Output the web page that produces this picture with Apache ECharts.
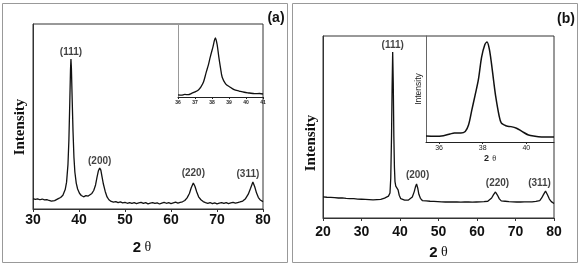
<!DOCTYPE html>
<html>
<head>
<meta charset="utf-8">
<script src="https://cdn.jsdelivr.net/npm/echarts@6/dist/echarts.min.js"></script>
<style>
  html, body { margin: 0; padding: 0; background: #fff; }
  #chart { width: 580px; height: 265px; }
</style>
</head>
<body>
<div id="chart"></div>
<script>
// XRD patterns, panel (a) and (b), intensity in arbitrary units (0-100)
const scanA = [
    [30.0, 5.6], [30.5, 5.2], [31.0, 5.5], [31.5, 5.0], [32.0, 5.4], [32.5, 4.9], [33.0, 5.1], [33.5, 4.6],
    [34.0, 4.2], [34.3, 4.8], [34.7, 4.5], [35.0, 5.3], [35.5, 5.6], [36.0, 6.2], [36.5, 7.4], [37.0, 10.5],
    [37.3, 14.5], [37.6, 24], [37.8, 37], [38.0, 58], [38.15, 75], [38.25, 81], [38.35, 76], [38.5, 61],
    [38.7, 42], [38.9, 28], [39.1, 20], [39.4, 14], [39.7, 10.8], [40.1, 8.5], [40.5, 7.3], [41.0, 6.6],
    [41.5, 7.2], [42.0, 7.0], [42.4, 7.6], [42.8, 8.4], [43.2, 10], [43.6, 13], [43.9, 17], [44.2, 20.5],
    [44.5, 22.2], [44.75, 21], [45.0, 17.5], [45.3, 13.5], [45.7, 9.5], [46.1, 6.5], [46.5, 5.0], [47.0, 4.1],
    [47.5, 3.7], [48.0, 4.0], [48.5, 3.4], [49.0, 3.8], [49.5, 3.3], [50.0, 3.6], [50.5, 3.1], [51.0, 3.5],
    [51.5, 3.0], [52.0, 3.4], [52.5, 2.9], [53.0, 3.3], [53.5, 3.6], [54.0, 3.0], [54.5, 3.4], [55.0, 2.8],
    [55.5, 3.2], [56.0, 3.5], [56.5, 3.0], [57.0, 3.3], [57.5, 2.7], [58.0, 3.2], [58.5, 3.6], [59.0, 3.1],
    [59.5, 3.4], [60.0, 2.9], [60.5, 3.3], [61.0, 3.7], [61.5, 3.2], [62.0, 3.6], [62.5, 3.9], [63.0, 4.6],
    [63.5, 6.0], [64.0, 8.4], [64.4, 11.5], [64.85, 14.1], [65.2, 12.3], [65.6, 9.2], [66.0, 6.6], [66.5, 5.0],
    [67.0, 4.0], [67.5, 3.5], [68.0, 3.1], [68.5, 3.5], [69.0, 2.9], [69.5, 3.3], [70.0, 2.8], [70.5, 3.2],
    [71.0, 3.5], [71.5, 3.0], [72.0, 3.4], [72.5, 2.9], [73.0, 3.3], [73.5, 3.6], [74.0, 3.2], [74.5, 3.5],
    [75.0, 3.8], [75.6, 4.3], [76.2, 5.6], [76.8, 8.0], [77.3, 11.2], [77.8, 14.6], [78.2, 12.0], [78.6, 8.6],
    [79.0, 6.2], [79.4, 4.9], [79.7, 4.4], [80.0, 4.0]
];
const insetA = [
    [36.0, 3.0], [36.2, 2.5], [36.4, 3.5], [36.6, 3.2], [36.8, 5.0], [37.0, 7.0], [37.2, 9.6], [37.35, 14],
    [37.5, 20.5], [37.65, 33], [37.8, 45], [37.9, 55], [38.05, 68], [38.2, 80.8], [38.3, 72], [38.4, 55],
    [38.5, 40], [38.6, 27], [38.8, 18], [39.05, 13.7], [39.3, 10], [39.6, 8.2], [39.9, 6.5], [40.2, 5.5],
    [40.5, 4.5], [40.8, 4.8], [41.0, 4.1]
];
const scanB = [
    [20.0, 11.6], [20.5, 11.9], [21.0, 11.4], [21.5, 11.8], [22.0, 11.3], [22.5, 11.7], [23.0, 11.2], [23.5, 11.5],
    [24.0, 11.0], [24.5, 11.6], [25.0, 11.1], [25.5, 11.4], [26.0, 10.8], [26.5, 11.2], [27.0, 10.7], [27.5, 11.1],
    [28.0, 10.6], [28.5, 10.9], [29.0, 10.4], [29.5, 10.8], [30.0, 10.3], [30.5, 10.7], [31.0, 10.2], [31.5, 10.6],
    [32.0, 10.1], [32.5, 10.5], [33.0, 10.0], [33.5, 10.4], [34.0, 10.1], [34.5, 10.5], [35.0, 10.2], [35.5, 10.6],
    [36.0, 10.9], [36.5, 11.3], [37.0, 12.0], [37.4, 13.7], [37.6, 22], [37.8, 45], [37.95, 72], [38.1, 91.2],
    [38.25, 74], [38.4, 45], [38.55, 28], [38.7, 20], [38.9, 17.5], [39.2, 17.0], [39.5, 15.5], [39.8, 12.5],
    [40.2, 10.6], [40.7, 10.0], [41.2, 9.8], [41.7, 10.2], [42.2, 9.9], [42.7, 10.4], [43.2, 11.5], [43.7, 14.5],
    [44.0, 17], [44.3, 18.7], [44.6, 16.5], [44.9, 13], [45.3, 10.8], [45.8, 9.6], [46.3, 9.0], [46.8, 9.4],
    [47.3, 8.8], [47.8, 9.2], [48.3, 8.7], [48.8, 9.1], [49.3, 8.6], [49.8, 9.0], [50.3, 8.5], [50.8, 8.9],
    [51.3, 8.4], [51.8, 8.8], [52.3, 8.3], [52.8, 8.8], [53.3, 8.4], [53.8, 8.9], [54.3, 8.5], [54.8, 8.8],
    [55.3, 8.3], [55.8, 8.7], [56.3, 8.4], [56.8, 8.9], [57.3, 8.5], [57.8, 8.8], [58.3, 8.4], [58.8, 8.7],
    [59.3, 8.3], [59.8, 8.8], [60.3, 8.5], [60.8, 8.9], [61.3, 8.6], [61.8, 9.0], [62.3, 8.7], [62.8, 9.2],
    [63.3, 9.6], [63.8, 11], [64.3, 12.8], [64.8, 14.3], [65.3, 12.6], [65.8, 10.5], [66.3, 9.4], [66.8, 8.9],
    [67.3, 9.2], [67.8, 8.7], [68.3, 9.0], [68.8, 8.6], [69.3, 8.9], [69.8, 8.5], [70.3, 8.8], [70.8, 8.4],
    [71.3, 8.8], [71.8, 8.5], [72.3, 8.9], [72.8, 8.6], [73.3, 8.9], [73.8, 8.5], [74.3, 8.9], [74.8, 8.7],
    [75.3, 9.1], [75.8, 9.0], [76.3, 9.6], [76.8, 11], [77.3, 13], [77.8, 14.8], [78.3, 12.8], [78.8, 10.4],
    [79.3, 9.0], [79.7, 8.3], [80.0, 8.0]
];
const insetB = [
    [35.4, 5.7], [35.8, 5.5], [36.2, 6.0], [36.5, 7.5], [36.7, 8.5], [37.0, 8.5], [37.2, 10], [37.35, 16],
    [37.5, 30], [37.65, 44], [37.8, 58.5], [37.95, 80], [38.1, 92], [38.2, 94.3], [38.3, 88], [38.4, 74.5],
    [38.5, 58], [38.6, 42.5], [38.75, 25], [38.85, 18], [39.0, 16], [39.1, 15], [39.3, 14.5], [39.55, 13],
    [39.8, 10], [40.1, 6.6], [40.4, 5.5], [40.7, 4.8], [40.9, 4.7], [41.27, 4.7]
];

const hkl = ['(111)', '(200)', '(220)', '(311)'];
const peakPosA = [38.25, 44.5, 64.85, 77.8];
const peakIntA = [81, 22.2, 14.1, 14.6];
const peakPosB = [38.1, 44.3, 64.8, 77.8];
const peakIntB = [91.2, 18.7, 14.3, 14.8];
const insetTicksB = [36, 38, 40];

const SANS = 'Liberation Sans';
const SERIF = 'Liberation Serif';
const INK = '#111';

const chart = echarts.init(document.getElementById('chart'));

function mainX(min, max, gridIndex, labelMargin, nameGap, namePad) {
    return {
        type: 'value', gridIndex: gridIndex, min: min, max: max, interval: 10,
        axisLine: { show: true, lineStyle: { color: '#333', width: 1 } },
        axisTick: { show: true, length: 3, lineStyle: { color: '#333' } },
        splitLine: { show: false },
        axisLabel: { color: '#111', fontFamily: SANS, fontWeight: 'bold', fontSize: 14, margin: labelMargin },
        name: '{n|2} {t|θ}', nameLocation: 'middle', nameGap: nameGap,
        nameTextStyle: {
            padding: namePad,
            rich: {
                n: { fontFamily: SANS, fontWeight: 'bold', fontSize: 15, color: '#111' },
                t: { fontFamily: SERIF, fontSize: 14, color: '#111' }
            }
        }
    };
}

function hiddenY(gridIndex, lineColor) {
    return {
        type: 'value', gridIndex: gridIndex, min: 0, max: 100,
        axisLine: { show: true, lineStyle: { color: lineColor, width: 1 } },
        axisTick: { show: false }, axisLabel: { show: false }, splitLine: { show: false }
    };
}

function peakLabels(pos, ints, xi, yi, offsets) {
    return {
        type: 'scatter', xAxisIndex: xi, yAxisIndex: yi, symbolSize: 0, silent: true,
        data: pos.map((p, i) => ({
            value: [p, ints[i]],
            label: { offset: offsets[i] }
        })),
        label: {
            show: true, position: 'top', distance: 2,
            formatter: (d) => hkl[d.dataIndex],
            fontFamily: SANS, fontWeight: 'bold', fontSize: 10, color: '#111'
        }
    };
}

const lineStyle = { color: INK, width: 1.3 };

chart.setOption({
    animation: false,
    grid: [
        { left: 33, top: 24, width: 230, height: 185, show: true, borderColor: '#333', borderWidth: 1 },
        { left: 178, top: 24, width: 85, height: 73 },
        { left: 323, top: 36, width: 231, height: 182, show: true, borderColor: '#333', borderWidth: 1 },
        { left: 426, top: 36, width: 128, height: 106 }
    ],
    xAxis: [
        mainX(30, 80, 0, 4, 31, [0, 12, 0, 0]),
        {
            type: 'value', gridIndex: 1, min: 36, max: 41, interval: 1,
            axisLine: { show: true, lineStyle: { color: '#222' } },
            axisTick: { show: true, length: 2, lineStyle: { color: '#222' } },
            splitLine: { show: false },
            axisLabel: { fontFamily: SANS, fontWeight: 'bold', fontSize: 5, color: '#222', margin: 3 }
        },
        mainX(20, 80, 2, 7, 27, [0, 0, 0, 0]),
        {
            type: 'value', gridIndex: 3, min: 35.4, max: 41.27,
            axisLine: { show: true, lineStyle: { color: '#222' } },
            axisTick: { show: true, length: 2, customValues: insetTicksB, lineStyle: { color: '#222' } },
            splitLine: { show: false },
            axisLabel: { customValues: insetTicksB, fontFamily: SANS, fontSize: 7, color: '#222', margin: 3 },
            name: '{n|2} {t|θ}', nameLocation: 'middle', nameGap: 10,
            nameTextStyle: {
                rich: {
                    n: { fontFamily: SANS, fontWeight: 'bold', fontSize: 9, color: '#222' },
                    t: { fontFamily: SERIF, fontSize: 8, color: '#222' }
                }
            }
        }
    ],
    yAxis: [
        hiddenY(0, '#333'),
        hiddenY(1, '#999'),
        hiddenY(2, '#333'),
        Object.assign(hiddenY(3, '#666'), {
            name: 'Intensity', nameLocation: 'middle', nameGap: 3,
            nameTextStyle: { fontFamily: SANS, fontSize: 8.5, color: '#222' }
        })
    ],
    series: [
        { type: 'line', xAxisIndex: 0, yAxisIndex: 0, data: scanA, showSymbol: false, lineStyle: lineStyle },
        { type: 'line', xAxisIndex: 1, yAxisIndex: 1, data: insetA, showSymbol: false, smooth: 0.3, lineStyle: lineStyle },
        { type: 'line', xAxisIndex: 2, yAxisIndex: 2, data: scanB, showSymbol: false, lineStyle: lineStyle },
        { type: 'line', xAxisIndex: 3, yAxisIndex: 3, data: insetB, showSymbol: false, smooth: 0.3, lineStyle: { color: INK, width: 1.5 } },
        peakLabels(peakPosA, peakIntA, 0, 0, [[0, 0], [0, 0], [0, -3], [-5, -1]]),
        peakLabels(peakPosB, peakIntB, 2, 2, [[0, 0], [1, -2], [2, -2], [-6, -1]])
    ],
    graphic: [
        { type: 'rect', shape: { x: 2.5, y: 3.5, width: 285, height: 259 }, style: { fill: 'none', stroke: '#999', lineWidth: 1 } },
        { type: 'rect', shape: { x: 292.5, y: 3.5, width: 285, height: 259 }, style: { fill: 'none', stroke: '#999', lineWidth: 1 } },
        { type: 'text', x: 276, y: 18, style: { text: '(a)', font: 'bold 14px "Liberation Sans"', fill: '#111', textAlign: 'center', textVerticalAlign: 'middle' } },
        { type: 'text', x: 566, y: 19, style: { text: '(b)', font: 'bold 14px "Liberation Sans"', fill: '#111', textAlign: 'center', textVerticalAlign: 'middle' } },
        { type: 'text', x: 20, y: 127, rotation: Math.PI / 2, style: { text: 'Intensity', font: 'bold 15px "Liberation Serif"', fill: '#111', textAlign: 'center', textVerticalAlign: 'middle' } },
        { type: 'text', x: 311, y: 143, rotation: Math.PI / 2, style: { text: 'Intensity', font: 'bold 15px "Liberation Serif"', fill: '#111', textAlign: 'center', textVerticalAlign: 'middle' } }
    ]
});
</script>
</body>
</html>
